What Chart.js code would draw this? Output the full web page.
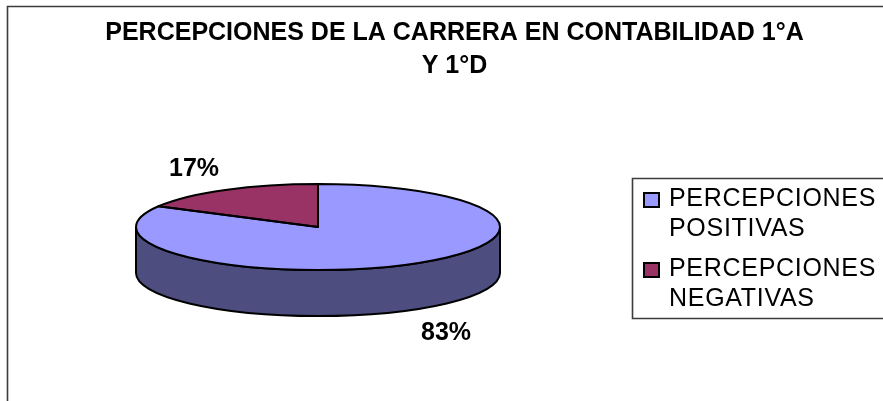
<!DOCTYPE html>
<html>
<head>
<meta charset="utf-8">
<style>html,body{margin:0;padding:0;background:#fff}canvas{display:block}</style>
<script src="https://cdn.jsdelivr.net/npm/chart.js@4"></script>
</head>
<body>
<canvas id="c" width="883" height="401"></canvas>
<script>
const categories = [["PERCEPCIONES", "POSITIVAS"], ["PERCEPCIONES", "NEGATIVAS"]];
const seriesValues = [83, 17];
const pctLabels = ["83%", "17%"];
const titleLines = ["PERCEPCIONES DE LA CARRERA EN CONTABILIDAD 1°A", "Y 1°D"];
const sliceColors = ["#9999ff", "#993366"];
const sideColors = ["#4d4d80", "#4d1a33"];

const FONT = '"Liberation Sans", Arial, sans-serif';
const PIE = {cx: 318, cy: 227, rx: 182, ry: 43, depth: 46};
const pctPos = [{x: 446, y: 333}, {x: 194, y: 169}];
const LEG = {x: 632.5, y: 178.5, right: 883, bottom: 318.5};

function ellipsePath(ctx, a0, a1) {
  ctx.ellipse(PIE.cx, PIE.cy, PIE.rx, PIE.ry, 0, a0, a1);
}

const pie3d = {
  id: 'pie3d',
  beforeDraw(chart) {
    const ctx = chart.ctx;
    ctx.save();
    ctx.strokeStyle = '#3c3c3c';
    ctx.lineWidth = 1.6;
    ctx.beginPath();
    ctx.moveTo(7.5, 401);
    ctx.lineTo(7.5, 6.5);
    ctx.lineTo(883, 6.5);
    ctx.stroke();
    ctx.restore();
  },
  beforeDatasetsDraw(chart) {
    const ctx = chart.ctx;
    const arcs = chart.getDatasetMeta(0).data;
    arcs.forEach((arc, i) => {
      const a0 = Math.max(arc.startAngle, 0), a1 = Math.min(arc.endAngle, Math.PI);
      if (a1 <= a0) return;
      ctx.save();
      ctx.beginPath();
      ellipsePath(ctx, a0, a1);
      ctx.ellipse(PIE.cx, PIE.cy + PIE.depth, PIE.rx, PIE.ry, 0, a1, a0, true);
      ctx.closePath();
      ctx.fillStyle = sideColors[i];
      ctx.fill();
      ctx.strokeStyle = '#000';
      ctx.lineWidth = 2;
      ctx.stroke();
      ctx.restore();
    });
    const a = arcs[0];
    ctx.save();
    ctx.translate(PIE.cx, PIE.cy);
    ctx.scale(1, PIE.ry / PIE.rx);
    ctx.translate(-a.x, -a.y);
  },
  afterDatasetsDraw(chart) {
    const ctx = chart.ctx;
    ctx.restore();
    const arcs = chart.getDatasetMeta(0).data;
    ctx.save();
    ctx.strokeStyle = '#000';
    ctx.lineWidth = 2;
    ctx.lineJoin = 'round';
    arcs.forEach(arc => {
      ctx.beginPath();
      ctx.moveTo(PIE.cx, PIE.cy);
      ellipsePath(ctx, arc.startAngle, arc.endAngle);
      ctx.closePath();
      ctx.stroke();
    });
    ctx.restore();

    ctx.save();
    ctx.font = 'bold 25px ' + FONT;
    ctx.fillStyle = '#000';
    ctx.textAlign = 'center';
    ctx.textBaseline = 'middle';
    pctLabels.forEach((t, i) => ctx.fillText(t, pctPos[i].x, pctPos[i].y));
    ctx.restore();

    ctx.save();
    ctx.strokeStyle = '#3c3c3c';
    ctx.lineWidth = 1.6;
    ctx.beginPath();
    ctx.moveTo(LEG.right, LEG.y);
    ctx.lineTo(LEG.x, LEG.y);
    ctx.lineTo(LEG.x, LEG.bottom);
    ctx.lineTo(LEG.right, LEG.bottom);
    ctx.stroke();
    const rowY = [199, 269];
    ctx.font = '25px ' + FONT;
    ctx.letterSpacing = '0.7px';
    ctx.textBaseline = 'middle';
    ctx.textAlign = 'left';
    categories.forEach((lines, i) => {
      ctx.fillStyle = sliceColors[i];
      ctx.strokeStyle = '#000';
      ctx.lineWidth = 2;
      ctx.fillRect(644, rowY[i] - 6, 15, 14);
      ctx.strokeRect(644, rowY[i] - 6, 15, 14);
      ctx.fillStyle = '#000';
      lines.forEach((l, k) => ctx.fillText(l, 669, rowY[i] + k * 30));
    });
    ctx.restore();
  }
};

new Chart(document.getElementById('c'), {
  type: 'pie',
  data: {
    labels: categories.map(l => l.join(' ')),
    datasets: [{
      data: seriesValues,
      backgroundColor: sliceColors,
      borderWidth: 0,
      clip: false
    }]
  },
  options: {
    responsive: false,
    animation: false,
    radius: PIE.rx,
    layout: {padding: {left: 26, top: 16}},
    plugins: {
      legend: {display: false},
      tooltip: {enabled: false},
      title: {
        display: true,
        text: titleLines,
        color: '#000',
        padding: 0,
        font: {family: FONT, size: 25, weight: 'bold', lineHeight: 1.34}
      }
    }
  },
  plugins: [pie3d]
});
</script>
</body>
</html>
